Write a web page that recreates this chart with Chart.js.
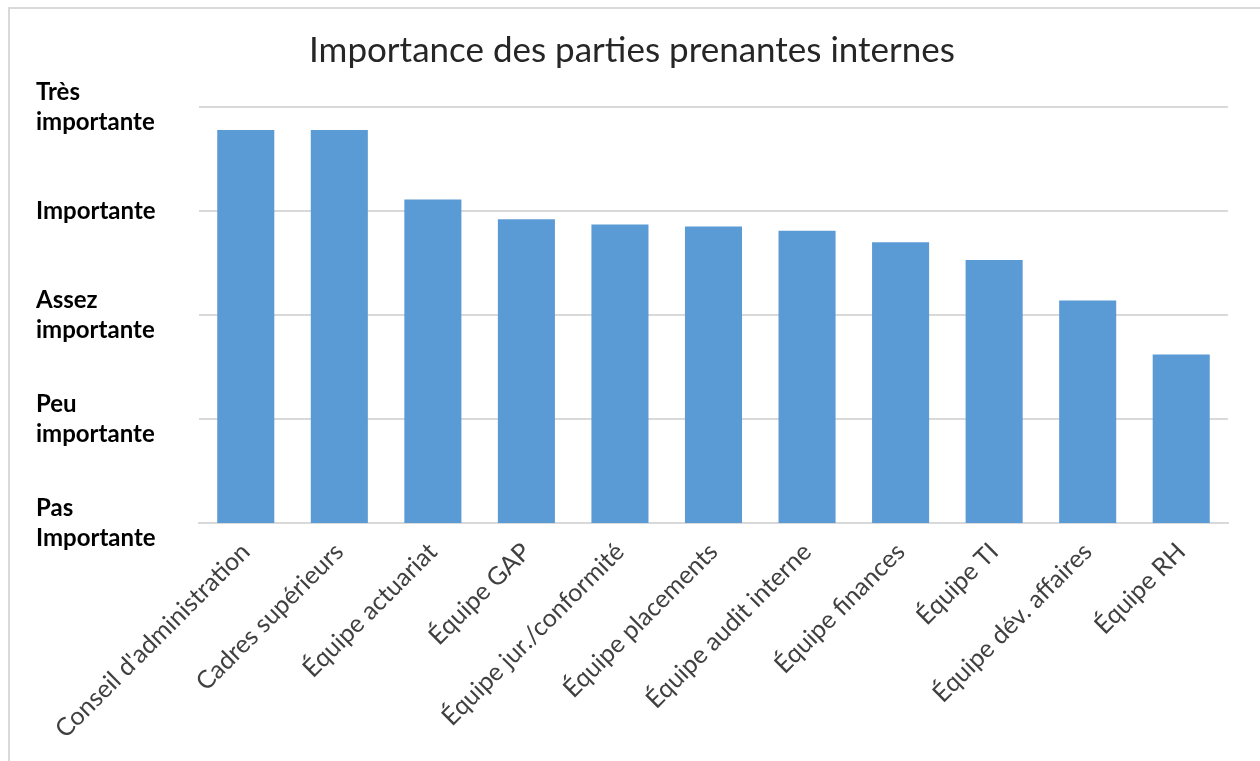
<!DOCTYPE html>
<html lang="fr">
<head>
<meta charset="utf-8">
<title>Importance des parties prenantes internes</title>
<script src="https://cdn.jsdelivr.net/npm/chart.js@4/dist/chart.umd.min.js"></script>
<style>
  html, body { margin: 0; padding: 0; background: #fff; overflow: hidden; }
  #cadre {
    position: absolute; left: 8px; top: 7px;
    width: 1400px; height: 900px;
    border-left: 2px solid #d9d9d9; border-top: 2px solid #d9d9d9;
  }
  #zone { position: absolute; left: 0; top: 0; width: 1260px; height: 761px; }
</style>
</head>
<body>
<div id="cadre"></div>
<div id="zone"><canvas id="graphique"></canvas></div>
<script>
// Équipes interrogées
const categories = [
  "Conseil d'administration",
  "Cadres supérieurs",
  "Équipe actuariat",
  "Équipe GAP",
  "Équipe jur./conformité",
  "Équipe placements",
  "Équipe audit interne",
  "Équipe finances",
  "Équipe TI",
  "Équipe dév. affaires",
  "Équipe RH",
];

// Score moyen (1 = pas importante ... 5 = très importante)
const scores = [4.78, 4.78, 4.11, 3.92, 3.87, 3.85, 3.81, 3.70, 3.53, 3.14, 2.62];

// Libellés de l'échelle
const echelle = {
  1: ["Pas", "Importante"],
  2: ["Peu", "importante"],
  3: ["Assez", "importante"],
  4: ["Importante"],
  5: ["Très", "importante"],
};

const police = "Lato, 'Open Sans', sans-serif";

const ctx = document.getElementById("graphique").getContext("2d");

const graphique = new Chart(ctx, {
  type: "bar",
  data: {
    labels: categories,
    datasets: [{
      label: "Importance",
      data: scores,
      backgroundColor: "#5b9bd5",
      borderWidth: 0,
      barPercentage: 0.61,
      categoryPercentage: 1,
    }],
  },
  options: {
    responsive: true,
    maintainAspectRatio: false,
    animation: false,
    layout: { padding: { left: 36, right: 32, top: 0, bottom: 0 } },
    plugins: {
      legend: { display: false },
      tooltip: { enabled: false },
      title: {
        display: true,
        text: "Importance des parties prenantes internes",
        color: "#262626",
        font: { family: police, size: 35, weight: "normal" },
        padding: { top: 30, bottom: 35 },
      },
    },
    scales: {
      y: {
        min: 1,
        max: 5,
        border: { display: false },
        grid: { color: "#d9d9d9", lineWidth: 2, drawTicks: false },
        afterFit: (scale) => { scale.width = 163; },
        ticks: {
          stepSize: 1,
          crossAlign: "far",
          color: "#000",
          font: { family: police, size: 24, weight: "bold", lineHeight: 1.25 },
          callback: (v) => echelle[v] || "",
        },
      },
      x: {
        border: { display: true, color: "#d9d9d9", width: 2 },
        grid: { display: false },
        afterFit: (scale) => { scale.height = 238; },
        ticks: {
          minRotation: 45,
          maxRotation: 45,
          padding: 6,
          color: "#404040",
          font: { family: police, size: 25 },
        },
      },
    },
  },
});
</script>
</body>
</html>
